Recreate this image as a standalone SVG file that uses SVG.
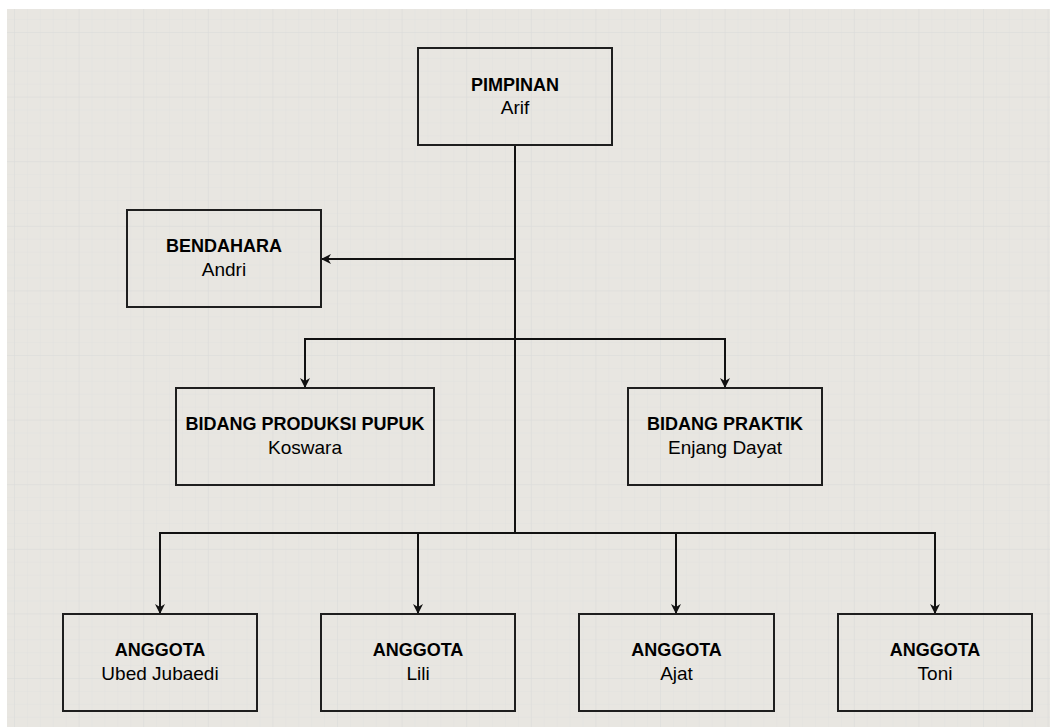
<svg xmlns="http://www.w3.org/2000/svg" width="1053" height="727" viewBox="0 0 1053 727">
<defs>
<pattern id="minor" x="14" y="32" width="12.92" height="12.92" patternUnits="userSpaceOnUse">
<path d="M0,0 V12.92 M0,0 H12.92" fill="none" stroke="#e1e1df" stroke-width="1"/>
</pattern>
<pattern id="major" x="14" y="32" width="64.6" height="64.6" patternUnits="userSpaceOnUse">
<path d="M0,0 V64.6 M0,0 H64.6" fill="none" stroke="#dcdcda" stroke-width="1"/>
</pattern>
<marker id="arr" viewBox="0 0 10 10" refX="10" refY="5" markerWidth="10" markerHeight="10" markerUnits="userSpaceOnUse" orient="auto">
<path d="M0,0 L10,5 L0,10 L3,5 z" fill="#111"/>
</marker>
<style>
.box{fill:none;stroke:#1e1e1e;stroke-width:2}
.t{font-family:"Liberation Sans",Arial,sans-serif;text-anchor:middle;fill:#000}
.b{font-weight:bold;font-size:18px}
.r{font-size:19px}
.c{fill:none;stroke:#111;stroke-width:2}
</style>
</defs>
<rect x="0" y="0" width="1053" height="727" fill="#ffffff"/>
<rect x="7" y="9" width="1043" height="718" fill="#e8e6e1"/>
<rect x="7" y="9" width="1043" height="718" fill="url(#minor)"/>
<rect x="7" y="9" width="1043" height="718" fill="url(#major)"/>

<g id="connectors">
<path class="c" d="M515,145 V533"/>
<path class="c" d="M515,259 H321" marker-end="url(#arr)"/>
<path class="c" d="M515,339 H305 V388" marker-end="url(#arr)"/>
<path class="c" d="M515,339 H725 V388" marker-end="url(#arr)"/>
<path class="c" d="M515,533 H160 V614" marker-end="url(#arr)"/>
<path class="c" d="M515,533 H418 V614" marker-end="url(#arr)"/>
<path class="c" d="M515,533 H676 V614" marker-end="url(#arr)"/>
<path class="c" d="M515,533 H935 V614" marker-end="url(#arr)"/>
</g>

<g id="pimpinan">
<rect class="box" x="418" y="48" width="194" height="97"/>
<text class="t b" x="515" y="90.5">PIMPINAN</text>
<text class="t r" x="515" y="114">Arif</text>
</g>
<g id="bendahara">
<rect class="box" x="127" y="210" width="194" height="97"/>
<text class="t b" x="224" y="252">BENDAHARA</text>
<text class="t r" x="224" y="276">Andri</text>
</g>
<g id="bidang-produksi">
<rect class="box" x="176" y="388" width="258" height="97"/>
<text class="t b" x="305" y="430">BIDANG PRODUKSI PUPUK</text>
<text class="t r" x="305" y="454">Koswara</text>
</g>
<g id="bidang-praktik">
<rect class="box" x="628" y="388" width="194" height="97"/>
<text class="t b" x="725" y="430">BIDANG PRAKTIK</text>
<text class="t r" x="725" y="454">Enjang Dayat</text>
</g>
<g id="anggota-ubed">
<rect class="box" x="63" y="614" width="194" height="97"/>
<text class="t b" x="160" y="656">ANGGOTA</text>
<text class="t r" x="160" y="680">Ubed Jubaedi</text>
</g>
<g id="anggota-lili">
<rect class="box" x="321" y="614" width="194" height="97"/>
<text class="t b" x="418" y="656">ANGGOTA</text>
<text class="t r" x="418" y="680">Lili</text>
</g>
<g id="anggota-ajat">
<rect class="box" x="579" y="614" width="195" height="97"/>
<text class="t b" x="676.5" y="656">ANGGOTA</text>
<text class="t r" x="676.5" y="680">Ajat</text>
</g>
<g id="anggota-toni">
<rect class="box" x="838" y="614" width="194" height="97"/>
<text class="t b" x="935" y="656">ANGGOTA</text>
<text class="t r" x="935" y="680">Toni</text>
</g>
</svg>
